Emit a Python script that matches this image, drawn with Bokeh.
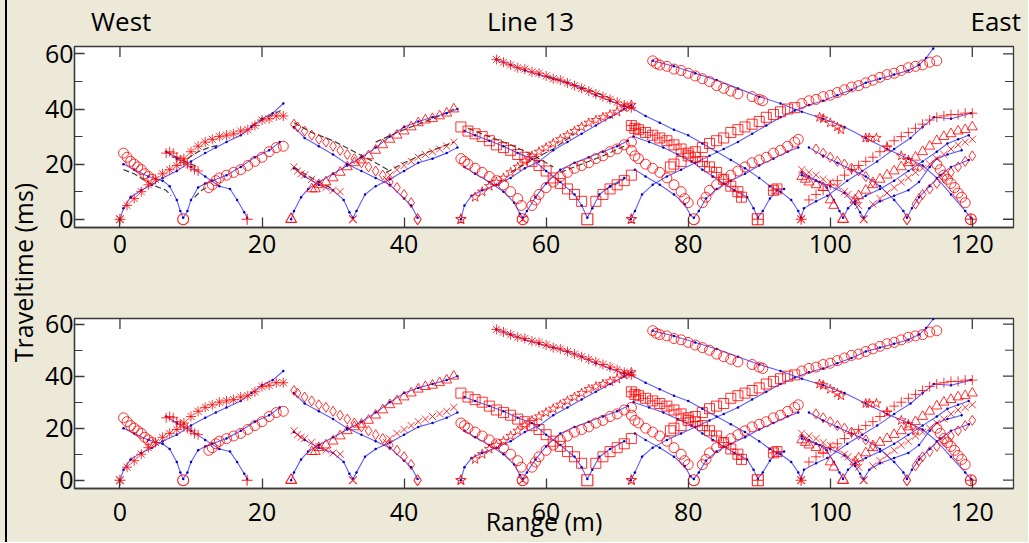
import math
from bokeh.plotting import figure
from bokeh.layouts import row, column
from bokeh.models import Range1d, FixedTicker
from bokeh.embed import file_html
from bokeh.resources import INLINE

# ---------------- DATA ----------------
x_ticks = [0, 20, 40, 60, 80, 100, 120]
y_ticks = [0, 20, 40, 60]
y_minor = [10, 30, 50]
header_pos = [0.17, 57.8, 123.3]
header_txt = ["West", "Line 13", "East"]

# shot positions (m), traveltime 0
shot_x = [0, 8.9, 17.9, 24.1, 32.8, 41.9, 48, 56.7, 65.8, 72, 80.8, 89.8, 95.9, 101.8, 104.7, 110.8, 119.8]

# observed first-break picks (red)
s0R_x = [1, 2, 3, 4, 5, 6, 7, 8, 9, 10, 11, 12, 13, 14, 15, 16, 17, 18, 19, 20, 21, 22, 23]
s0R_t = [5, 7.5, 10, 12.5, 14.5, 16.5, 18, 19.5, 22, 24.5, 26.5, 28, 29, 30, 30.5, 31, 32, 32.5, 34, 36, 36.5, 37.5, 37.5]
s9L_x = [0.5, 1, 1.5, 2, 2.5, 3, 3.5, 4, 4.5]
s9L_t = [24, 22.5, 21, 20, 19, 18, 16.5, 15.5, 14.5]
s9R_x = [12.5, 13, 13.5, 14, 15, 16, 17, 18, 19, 20, 21, 22, 23]
s9R_t = [11.5, 12.5, 14, 15, 16, 17, 18, 19.5, 21, 22.5, 24.5, 26, 26.5]
s18L_x = [6.5, 7, 7.5, 8, 8.5, 9, 9.5, 10, 10.5, 11]
s18L_t = [24, 24.5, 24, 22.5, 21.5, 20.5, 20, 19, 18, 17.5]
s24R_x = [27, 27.5, 28, 29, 30, 31, 32, 33, 34, 35, 36, 37, 38, 39, 40, 41, 42, 43, 44, 45, 46, 47]
s24R_t = [11, 11, 12.5, 13.5, 15, 17, 19, 20.5, 21.5, 23, 25, 27, 29, 30.5, 32, 33.5, 35, 36, 36.5, 37.5, 38.5, 40]
s33L_x = [24.5, 25, 25.5, 26, 27, 28, 29, 30, 31]
s33L_t = [19, 17.5, 16.5, 16, 14.5, 13, 11.5, 10.5, 10]
s33R_x = [37.5, 38, 39, 40, 41, 42, 43, 44, 45, 46, 47]
s33R_t = [14.5, 16, 18, 19.5, 21, 22.5, 23.5, 24.5, 25.5, 26.5, 28]
s42L_x = [24.5, 25, 26, 27, 28, 29, 30, 31, 32, 33, 34, 35, 36, 37, 38, 39, 40, 41]
s42L_t = [34.5, 33.5, 32, 30.5, 29, 28, 26.5, 25, 23.5, 22, 20.5, 19, 17.5, 16, 13.5, 11.5, 9, 6]
s48R_x = [50, 51, 52, 53, 54, 55, 56, 57, 58, 59, 60, 61, 62, 63, 64, 65, 66, 67, 68, 69, 70, 71, 72]
s48R_t = [8, 10, 12, 13.5, 15, 17, 19, 21, 23, 24.5, 26, 27.5, 29, 30.5, 32, 33.5, 35, 36, 37, 38, 39, 40.5, 41.5]
s57L_x = [48, 48.5, 49, 50, 51, 52, 53, 54, 55, 56, 56.5]
s57L_t = [22, 21, 20, 18.5, 17, 15.5, 14, 12.5, 10, 7.5, 5]
s57R_x = [58, 58.5, 59, 60, 61, 62, 63, 64, 65, 66, 67, 68, 69, 70, 71, 72]
s57R_t = [5, 7, 9, 11.5, 13.5, 15.5, 17, 18.5, 19.5, 20.5, 22, 23, 24.5, 25.5, 27, 28]
s66L_x = [48, 49, 50, 51, 52, 53, 54, 55, 56, 57, 58, 59, 60, 61, 62, 63, 64, 65]
s66L_t = [33.5, 32, 31, 30, 28.5, 27, 26, 25, 23.5, 22.5, 21, 19.5, 17.5, 15, 13, 11, 9, 6.5]
s66R_x = [67, 68, 69, 70, 71, 72]
s66R_t = [6.5, 9, 11, 12.5, 14, 16]
s96L_x = [53, 54, 55, 56, 57, 58, 59, 60, 61, 62, 63, 64, 65, 66, 67, 68, 69, 70, 71, 72]
s96L_t = [58, 57, 56, 55, 54.5, 53.5, 53, 52, 51, 50.5, 49.5, 48.5, 47.5, 46.5, 45.5, 44.5, 43.5, 42.5, 41.5, 40.5]
s72Ra_x = [77.5, 78, 79, 80, 81, 82, 83, 84, 85, 86, 87, 88, 89, 90, 91, 92, 93, 94, 95]
s72Ra_t = [19, 20, 21, 23, 24.5, 26, 27.5, 28.5, 29.5, 31.5, 32.5, 33.5, 34.5, 35.5, 37, 38, 39, 40, 40.5]
s72Rb_x = [96, 97, 98, 99, 100, 101, 102, 103, 104, 105, 106, 107, 108, 109, 110, 111, 112, 113, 114, 115]
s72Rb_t = [42, 43, 43.5, 44.5, 45, 46, 47, 48, 48.5, 49.5, 50.5, 51.5, 52.5, 53, 54, 55, 55.5, 56, 57, 57.5]
s81L_x = [72, 72.5, 73, 74, 75, 76, 77, 78, 79, 79.5, 80]
s81L_t = [25, 23, 22, 20, 18.5, 17, 15, 12.5, 10, 7.5, 6]
s81R_x = [82, 82.5, 83, 84, 85, 86, 87, 88, 89, 90, 91, 92, 93, 94, 95, 95.5]
s81R_t = [6, 8, 10.5, 12.5, 14.5, 16, 17.5, 19, 20.5, 21.5, 22.5, 24, 25, 26.5, 28, 29]
s90L_x = [72, 72.5, 73, 74, 75, 76, 77, 78, 79, 80, 81, 82, 83, 84, 85, 86, 87, 87.5]
s90L_t = [34, 33, 32.5, 31.5, 30.5, 29.5, 28.5, 27, 25.5, 24, 22.5, 21, 19, 17, 14.5, 12, 10, 8]
s90R_x = [92, 92.5]
s90R_t = [10.5, 11]
s96R_x = [97, 98, 99, 100, 101, 102, 103, 104, 105, 106, 107, 108, 109, 110, 111, 112, 113, 114, 115, 116, 117, 118, 119, 120]
s96R_t = [7, 9, 10.5, 12.5, 14, 16, 18, 19.5, 21, 22.5, 24.5, 26.5, 28.5, 30, 31.5, 33, 34.5, 36, 37, 37.5, 38, 38, 38.5, 38.5]
s102L_x = [96, 96.5, 97, 98, 99, 100, 100.5]
s102L_t = [15.5, 14.5, 13.5, 12.5, 11.5, 7, 5]
s102R_x = [103.5, 104, 105, 106, 107, 108, 109, 110, 111, 112, 113, 114, 115, 116, 117, 118, 119, 120]
s102R_t = [7, 8.5, 10.5, 12.5, 14.5, 16, 17.5, 19, 20.5, 22.5, 24.5, 26.5, 28.5, 30, 31, 32, 32.5, 33.5]
s105L_x = [96, 97, 98, 99, 100, 101, 102, 102.5, 103.5, 104]
s105L_t = [18, 17, 16, 14.5, 13.5, 12, 10, 9, 7, 5]
s105R_x = [106, 107, 108, 109, 110, 111, 112, 113, 114, 115, 116, 117, 118, 119, 120]
s105R_t = [5.5, 7.5, 9.5, 11.5, 13.5, 15, 17, 18.5, 20, 22, 23.5, 25.5, 27, 28, 29]
s111L_x = [98, 99, 100, 101, 102, 103, 104, 105, 106]
s111L_t = [25.5, 24, 22.5, 21, 20, 18.5, 17.5, 15.5, 13.5]
s111R_x = [112, 112.5, 113, 114, 115, 116, 117, 118, 119, 120]
s111R_t = [5.5, 7.5, 9, 11, 13, 15, 17, 19, 21, 23]
s120La_x = [75, 75.5, 76, 77, 78, 79, 80, 81, 82, 83, 84, 85, 86, 87, 89, 90, 90.5]
s120La_t = [57.5, 56.5, 56, 55.5, 54.5, 54, 53, 52, 51, 50, 48.5, 47.5, 46.5, 45.5, 44.5, 43.5, 43]
s120Lb_x = [98.5, 99, 100, 101, 101.5, 105, 105.5, 106.5, 108, 110, 111, 112]
s120Lb_t = [37, 36.5, 35, 33.5, 32.5, 29.5, 29.5, 29.5, 26, 23, 21.5, 19]
s120Lc_x = [115, 115.5, 116, 116.5, 117, 117.5, 118, 118.5, 119]
s120Lc_t = [20, 18, 16, 14.5, 13, 11.5, 9.5, 8, 6]

# calculated traveltimes (blue)
b0_x = [0, 0.5, 1.5, 3, 4.5, 6, 8, 10, 12, 13.5, 15, 17, 18.5, 20, 21.5, 23]
b0_t = [0, 4, 8, 10.5, 12.5, 15, 17.5, 21, 24, 26, 28, 30.5, 33.5, 36.5, 38.5, 42]
b9_x = [0.5, 2, 4, 6, 7, 8, 8.5, 8.9, 9.5, 10, 11, 12, 13, 15, 17, 19, 21, 22.5]
b9_t = [20, 18, 15.5, 14, 12, 7, 3, 0.5, 3, 7, 11.5, 13, 14, 16, 19, 22.5, 25, 28]
b18_x = [6.5, 8, 10, 12, 14, 15.5, 16.5, 17.5, 17.9]
b18_t = [24.5, 22, 19, 15.5, 12, 11, 7, 2.5, 0.5]
b24_x = [24.1, 24.5, 25.5, 26.5, 28, 30, 32, 34, 36, 38, 40, 42, 44, 46, 47.5]
b24_t = [0, 3, 8, 11, 13.5, 16.5, 19.5, 22.5, 26, 30, 33.5, 35.5, 37, 38.5, 40]
b33_x = [24.5, 26, 28, 30, 31.5, 32.3, 32.8, 33.3, 34.5, 36, 38, 40, 42, 44, 46, 47.5]
b33_t = [18.5, 15.5, 12.5, 10.5, 7, 2.5, 0.5, 3, 9, 12, 14.5, 17.5, 20.5, 22, 24, 26]
b42_x = [24.5, 26, 28, 30, 32, 34, 36, 38, 40, 41, 41.9]
b42_t = [33.5, 29.5, 26.5, 23.5, 20, 17.5, 15, 12.5, 7.5, 5, 0.5]
b48_x = [48, 48.5, 49.5, 51, 53, 55, 57, 59, 61, 63, 65, 67, 69, 71, 72]
b48_t = [0, 5, 8.5, 10.5, 12.5, 15, 18.5, 21, 25, 28, 31, 34, 37, 40, 41.5]
b57_x = [48.5, 50, 52, 54, 55.5, 56.3, 56.7, 57.3, 58.5, 60, 62, 64, 66, 68, 70, 71.5]
b57_t = [19, 16.5, 13.5, 10, 6, 2, 0.5, 3, 8, 13, 18, 20.5, 22.5, 24.5, 26.5, 28.5]
b66_x = [48.5, 50, 52, 54, 56, 58, 60, 62, 64, 65, 65.8, 66.5, 67.5, 69, 71]
b66_t = [32, 30.5, 28.5, 26.5, 24, 22, 17.5, 13.5, 9, 5, 0.5, 4, 9, 12, 15]
b96L_x = [53, 55, 57, 59, 61, 63, 65, 67, 69, 71, 72, 74, 76, 78, 80, 82, 84, 86, 88, 90, 91.5, 93, 94.5, 95.5, 95.9]
b96L_t = [58, 56, 54, 52.5, 51, 49.5, 47.5, 45, 43, 41, 40.5, 37.5, 35, 32.5, 30.5, 27.5, 24.5, 21.5, 18.5, 15, 12, 10, 7, 3, 0.5]
b72_x = [71.9, 72.5, 73.5, 75, 77, 79, 81, 83, 85, 87, 89, 91, 93, 95, 97, 99, 101, 103, 105, 107, 109, 111, 112.5, 113.5, 114.5]
b72_t = [0, 3, 9, 12.5, 15.5, 18, 20.5, 23, 25.5, 28, 31, 34, 37, 39.5, 41.5, 43, 45, 47, 49.5, 51, 52.5, 54, 56, 58.5, 62]
b81_x = [72.5, 74, 76, 78, 79.5, 80.3, 80.8, 81.5, 82.5, 84, 86, 88, 90, 92, 94, 95.5]
b81_t = [18, 15.5, 12.5, 9, 5.5, 1.5, 0.5, 3, 7.5, 11, 14, 16.5, 19.5, 22, 24.5, 26]
b90_x = [72.3, 74.5, 76.5, 78.5, 80.5, 82, 83.5, 85, 86.5, 88.3, 89.2, 89.8, 90.5, 91.5, 92.5, 93.5]
b90_t = [30, 28, 26, 23.5, 21, 18, 15.5, 13, 10.5, 8, 4, 0.5, 3, 7.5, 10.5, 11]
b96R_x = [95.9, 96.3, 98, 99.6, 102.4, 104.5, 106.6, 109, 111.3, 113, 114.6, 117, 119.8]
b96R_t = [0.5, 4, 6.5, 8.5, 14, 17.5, 21, 25.5, 29.5, 33.5, 37, 36.5, 38.5]
b102_x = [96, 97, 98.5, 99.5, 100.5, 101.3, 101.8, 102.5, 103.5, 105, 107, 109, 111, 113, 115, 116.5, 118, 119.5]
b102_t = [17, 15.5, 13.5, 11.5, 7, 3, 0.5, 4, 6.5, 8.5, 11, 14, 17.5, 21, 24.5, 27.5, 29, 30.5]
b105_x = [96, 98, 100, 102, 103.5, 104.2, 104.7, 105.5, 107, 109, 111, 112.5, 114, 115, 116.5, 118.5]
b105_t = [16, 14, 12, 9.5, 5.5, 2.5, 0.5, 4, 6.5, 8.5, 10.5, 13.5, 19, 22, 23.5, 25]
b111_x = [97, 99, 101, 103, 105, 107, 109, 110.3, 110.8, 111.5, 112.5, 114, 115.5, 117, 119.5]
b111_t = [26, 23, 20.5, 18, 15.5, 12, 7, 3, 0.5, 4, 8, 12, 16, 19, 21.5]
b120_x = [75, 78, 81, 84, 87, 90, 93, 96, 99, 102, 105, 108, 111, 113, 115, 117, 119, 119.8]
b120_t = [57.5, 55.5, 53, 50.5, 47.5, 44.5, 42, 39, 36.5, 33.5, 29.5, 25.5, 22, 19.5, 15, 9, 3, 0.5]

# initial-model traveltimes (black dashed, upper panel only)
k1_x = [9.5, 11, 12.5, 14]
k1_t = [22, 24.5, 26, 27]
k2_x = [18.5, 20, 21.5, 23]
k2_t = [34, 36, 38, 40]
k3_x = [0.5, 2, 3.5, 5, 6.5, 7.2]
k3_t = [18, 16.5, 14, 12, 10.5, 8.5]
k4_x = [6.5, 8, 9.5, 11]
k4_t = [24.5, 22.5, 20.5, 19]
k5_x = [10.5, 11.5, 12.5]
k5_t = [8, 10.5, 12]
k6_x = [24.5, 27, 30, 33, 36, 38]
k6_t = [35, 31.5, 28.5, 24.5, 20.5, 17.5]
k7_x = [36, 39, 42, 45, 47]
k7_t = [28, 31.5, 34.5, 37.5, 40]
k8_x = [37.5, 40, 43, 46, 47]
k8_t = [17, 20.5, 24, 27, 28]
k9_x = [24.5, 26, 28, 30]
k9_t = [19, 16.5, 13.5, 11]
k10_x = [49, 52, 55, 58, 61]
k10_t = [33, 30, 27, 23.5, 19]
k11_x = [55, 58, 61, 64]
k11_t = [17, 21.5, 25.5, 31]
k12_x = [62, 65, 68, 71]
k12_t = [17, 20, 23, 26.5]
k13_x = [60, 63, 66, 69]
k13_t = [52, 49.5, 47, 44]
k14_x = [68.5, 70, 71]
k14_t = [11, 13, 14.5]

# ---------------- STYLE ----------------
BG = "#ECE9D8"
FONT = "Open Sans"
AXC = "#3a3a3a"
RED = "#ff0000"
BLUE = "#1a1aff"
XR = Range1d(-6.4, 125.8)

shot_markers = ["asterisk", "circle", "cross", "triangle", "x", "diamond", "star", "circle_x",
                "square", "star", "circle", "square_cross", "asterisk", "triangle", "x",
                "diamond", "circle_cross"]

picks = [
    (s0R_x, s0R_t, "asterisk"), (s9L_x, s9L_t, "circle"), (s9R_x, s9R_t, "circle"),
    (s18L_x, s18L_t, "cross"), (s24R_x, s24R_t, "triangle"), (s33L_x, s33L_t, "x"),
    (s33R_x, s33R_t, "x"), (s42L_x, s42L_t, "diamond"), (s48R_x, s48R_t, "star"),
    (s57L_x, s57L_t, "circle"), (s57R_x, s57R_t, "circle"), (s66L_x, s66L_t, "square"),
    (s66R_x, s66R_t, "square"), (s96L_x, s96L_t, "asterisk"), (s72Ra_x, s72Ra_t, "square"),
    (s72Rb_x, s72Rb_t, "circle"), (s81L_x, s81L_t, "circle"), (s81R_x, s81R_t, "circle"),
    (s90L_x, s90L_t, "square_cross"), (s90R_x, s90R_t, "square_cross"),
    (s96R_x, s96R_t, "cross"), (s102L_x, s102L_t, "triangle"), (s102R_x, s102R_t, "triangle"),
    (s105L_x, s105L_t, "x"), (s105R_x, s105R_t, "x"), (s111L_x, s111L_t, "diamond"),
    (s111R_x, s111R_t, "diamond"), (s120La_x, s120La_t, "circle"), (s120Lb_x, s120Lb_t, "star"),
    (s120Lc_x, s120Lc_t, "circle"),
]
calc = [(b0_x, b0_t), (b9_x, b9_t), (b18_x, b18_t), (b24_x, b24_t), (b33_x, b33_t),
        (b42_x, b42_t), (b48_x, b48_t), (b57_x, b57_t), (b66_x, b66_t), (b96L_x, b96L_t),
        (b72_x, b72_t), (b81_x, b81_t), (b90_x, b90_t), (b96R_x, b96R_t), (b102_x, b102_t),
        (b105_x, b105_t), (b111_x, b111_t), (b120_x, b120_t)]
initial = [(k1_x, k1_t), (k2_x, k2_t), (k3_x, k3_t), (k4_x, k4_t), (k5_x, k5_t), (k6_x, k6_t),
           (k7_x, k7_t), (k8_x, k8_t), (k9_x, k9_t), (k10_x, k10_t), (k11_x, k11_t),
           (k12_x, k12_t), (k13_x, k13_t), (k14_x, k14_t)]


def style_axis(ax, ticks, minor):
    ax.ticker = FixedTicker(ticks=ticks, minor_ticks=minor)
    ax.major_tick_in = 10
    ax.major_tick_out = 0
    ax.minor_tick_in = 8
    ax.minor_tick_out = 0
    ax.axis_line_color = AXC
    ax.major_tick_line_color = AXC
    ax.minor_tick_line_color = AXC
    ax.major_tick_line_width = 1.3
    ax.axis_line_width = 1.3
    ax.major_label_text_font = FONT
    ax.major_label_text_font_size = "25px"
    ax.major_label_text_color = "black"


def make_panel(h, yr, bt, bb, dashed, xstand):
    p = figure(width=988, height=h, x_range=XR, y_range=Range1d(*yr),
               output_backend="svg", toolbar_location=None,
               min_border_left=34, min_border_right=15, min_border_top=bt, min_border_bottom=bb,
               background_fill_color="white", border_fill_color=BG, outline_line_color=AXC,
               outline_line_width=1.3)
    p.grid.visible = False
    style_axis(p.xaxis[0], x_ticks, [])
    style_axis(p.yaxis[0], y_ticks, y_minor)
    p.xaxis[0].major_label_standoff = xstand
    p.yaxis[0].major_label_standoff = 1

    # mirrored inward ticks on the top and right frame edges (half of each dash is clipped)
    p.scatter(x_ticks, [yr[1]] * len(x_ticks), marker="dash", angle=math.pi / 2, size=21,
              line_color=AXC, line_width=1.3)
    p.scatter([XR.end] * len(y_ticks), y_ticks, marker="dash", size=21,
              line_color=AXC, line_width=1.3)
    p.scatter([XR.end] * len(y_minor), y_minor, marker="dash", size=17,
              line_color=AXC, line_width=1)

    if dashed:
        for kx, kt in initial:
            p.line(kx, kt, line_color="black", line_dash="6 3", line_width=1.2, line_alpha=0.75)
    for bx, bt_ in calc:
        p.line(bx, bt_, line_color=BLUE, line_width=1.1, line_alpha=0.7)
        p.scatter(bx, bt_, marker="circle", size=2.5, line_color=None, fill_color="#0000cc")
    for px, pt, m in picks:
        p.scatter(px, pt, marker=m, size=10, line_color=RED, fill_color=None,
                  line_width=1, line_alpha=0.8)
    for sx, m in zip(shot_x, shot_markers):
        p.scatter([sx], [0], marker=m, size=11, line_color=RED, fill_color=None,
                  line_width=1.1, line_alpha=0.9)
    return p


# header strip: West / Line 13 / East as a label-only axis
head = figure(width=988, height=36, x_range=XR, y_range=Range1d(0, 1),
              output_backend="svg", toolbar_location=None, y_axis_type=None,
              min_border_left=34, min_border_right=15, min_border_top=0, min_border_bottom=35,
              background_fill_color=BG, border_fill_color=BG, outline_line_color=None)
head.grid.visible = False
hx = head.xaxis[0]
hx.ticker = FixedTicker(ticks=header_pos, minor_ticks=[])
hx.major_label_overrides = {v: t for v, t in zip(header_pos, header_txt)}
hx.axis_line_color = None
hx.major_tick_line_color = None
hx.minor_tick_line_color = None
hx.major_label_text_font = FONT
hx.major_label_text_font_size = "26px"
hx.major_label_text_color = "black"
hx.major_label_standoff = -4

top = make_panel(264, (-3.0, 62.7), 10, 73, True, 7)
bottom = make_panel(242, (-3.2, 62.2), 18, 54, False, 14)

bottom.xaxis[0].axis_label = "Range (m)"
bottom.xaxis[0].axis_label_text_font = FONT
bottom.xaxis[0].axis_label_text_font_size = "25px"
bottom.xaxis[0].axis_label_text_font_style = "normal"
bottom.xaxis[0].axis_label_text_color = "black"
bottom.xaxis[0].axis_label_standoff = -20

# narrow transparent strip carrying the shared vertical axis title
lf = figure(width=40, height=542, x_range=Range1d(0, 1), y_range=Range1d(0, 1),
            output_backend="svg", toolbar_location=None,
            min_border_left=39, min_border_right=0, min_border_top=2, min_border_bottom=0,
            x_axis_type=None, background_fill_color=None, border_fill_color=None,
            outline_line_color=None)
lf.grid.visible = False
ya = lf.yaxis[0]
ya.ticker = FixedTicker(ticks=[], minor_ticks=[])
ya.axis_line_color = None
ya.major_tick_line_color = None
ya.minor_tick_line_color = None
ya.axis_label = "Traveltime (ms)"
ya.axis_label_text_font = FONT
ya.axis_label_text_font_size = "25px"
ya.axis_label_text_font_style = "normal"
ya.axis_label_text_color = "black"
ya.axis_label_standoff = 0

layout = row(lf, column(head, top, bottom, styles={"background-color": BG}),
             styles={"background-color": BG,
                     "box-shadow": f"inset 5px 0 0 0 {BG}, inset 7px 0 0 0 black"})
open("out.html", "w").write(file_html(layout, INLINE))
